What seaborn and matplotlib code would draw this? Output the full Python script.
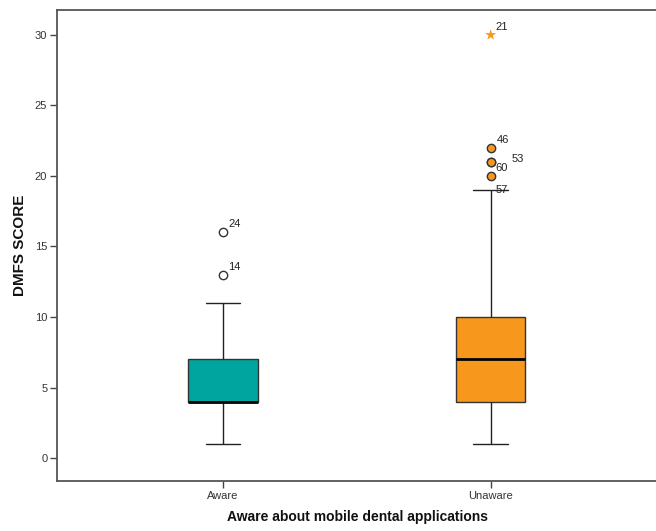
import numpy as np
import pandas as pd
import matplotlib
matplotlib.use("Agg")
import matplotlib.pyplot as plt
import seaborn as sns

# ---- data ----
groups = ["Aware", "Unaware"]
aware_core = [1, 2, 3, 4, 4, 4, 4, 5, 6, 7, 8, 9, 11]
unaware_core = [1, 2, 3, 3, 4, 4, 5, 5, 6, 6, 7, 7, 8, 8, 9, 10, 12, 13, 15, 17, 19]
aware_out_vals = [13, 16]
aware_out_ids = ["14", "24"]
unaware_out_vals = [20, 21, 21, 22]
unaware_out_ids = ["57", "60", "53", "46"]
unaware_ext_vals = [30]
unaware_ext_ids = ["21"]
y_ticks = [0, 5, 10, 15, 20, 25, 30]

colors = {"Aware": "#00A59F", "Unaware": "#F7981D"}

df = pd.DataFrame({
    "group": ["Aware"] * len(aware_core) + ["Unaware"] * len(unaware_core),
    "score": aware_core + unaware_core,
})

sns.set_style("white")
plt.rcParams["font.family"] = ["Liberation Sans", "DejaVu Sans"]

fig = plt.figure(figsize=(6.56, 5.31), dpi=100)
ax = fig.add_axes([57 / 656, 50 / 531, (658 - 57) / 656, (521 - 50) / 531])

sns.boxplot(data=df, x="group", y="score", hue="group", order=groups,
            palette=colors, saturation=1, width=0.26, whis=(0, 100),
            showfliers=False, linewidth=1.0, linecolor="#222222",
            legend=False, ax=ax,
            medianprops=dict(color="black", linewidth=2.0),
            boxprops=dict(edgecolor="#333333"))

# outliers
sns.scatterplot(x=["Aware"] * len(aware_out_vals), y=aware_out_vals, ax=ax,
                marker="o", s=36, facecolor="white", edgecolor="#333333",
                linewidth=1.0, zorder=5)
sns.scatterplot(x=["Unaware"] * len(unaware_out_vals), y=unaware_out_vals, ax=ax,
                marker="o", s=36, color=colors["Unaware"], edgecolor="#333333",
                linewidth=1.0, zorder=5)
sns.scatterplot(x=["Unaware"] * len(unaware_ext_vals), y=unaware_ext_vals, ax=ax,
                marker="*", s=70, color=colors["Unaware"], edgecolor="none",
                linewidth=0, zorder=5)

label_offsets = {"14": (5, 8), "24": (5, 8), "57": (5, -14), "60": (5, -6),
                 "53": (21, 3), "46": (6, 8), "21": (5, 8)}
for xi, vals, ids in [(0, aware_out_vals, aware_out_ids),
                      (1, unaware_out_vals, unaware_out_ids),
                      (1, unaware_ext_vals, unaware_ext_ids)]:
    for v, lab in zip(vals, ids):
        ax.annotate(lab, (xi, v), xytext=label_offsets[lab],
                    textcoords="offset pixels", fontsize=8, color="#222222",
                    va="center", ha="left")

ax.set_xlim(-0.62, 1.625)
ax.set_ylim(-1.63, 31.77)
ax.set_yticks(y_ticks)
ax.set_yticklabels([str(t) for t in y_ticks])
ax.tick_params(axis="both", direction="out", length=5, width=1.0,
               color="#444444", labelsize=8, labelcolor="#333333",
               left=True, bottom=True, pad=2)
for sp in ax.spines.values():
    sp.set_color("#555555")
    sp.set_linewidth(1.3)
    sp.set_visible(True)

ax.set_xlabel("Aware about mobile dental applications", fontsize=10,
              fontweight="bold", labelpad=7, color="#111111")
ax.set_ylabel("DMFS SCORE", fontsize=11, fontweight="bold", labelpad=6,
              color="#111111")

fig.savefig("out.png", dpi=100, facecolor="white")
